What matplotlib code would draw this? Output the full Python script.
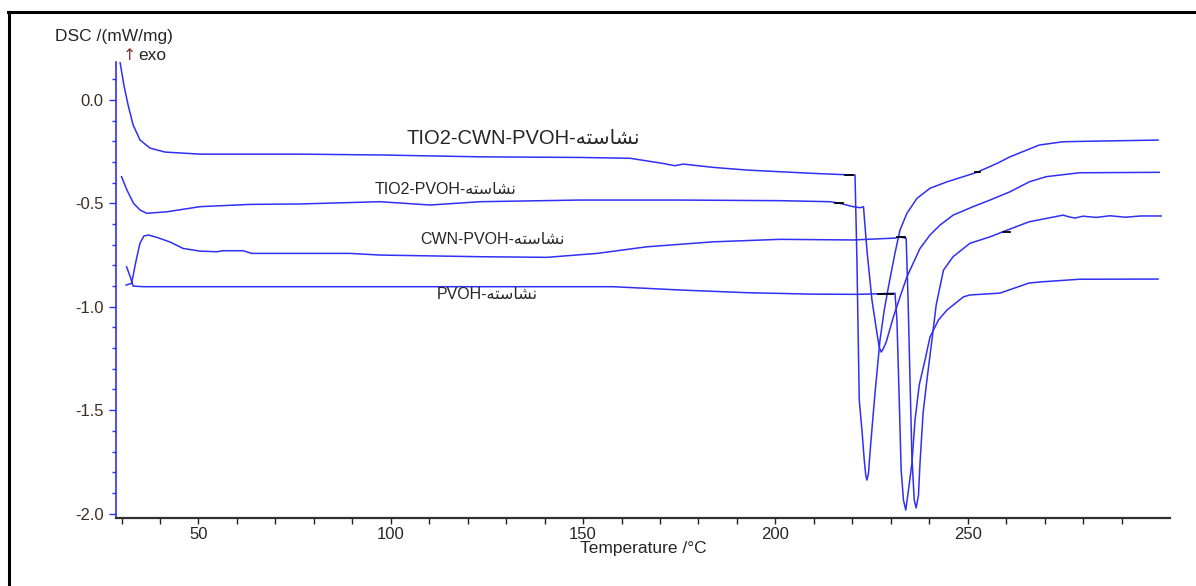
import numpy as np
import matplotlib
matplotlib.use("Agg")
from matplotlib import pyplot as plt
from matplotlib.ticker import MultipleLocator, FixedLocator, FormatStrFormatter
from matplotlib.lines import Line2D

plt.rcParams['axes.unicode_minus'] = False
plt.rcParams['font.family'] = ['Liberation Sans', 'DejaVu Sans']

# starch word, in joined (presentation) forms so it shows shaped
starch = "\ufeea\ufe98\ufeb3\ufe8e\ufeb8\ufee7"

# TIO2-CWN-PVOH
t1 = [29.6, 30.6, 31.7, 33.0, 34.8, 37.4, 41.3, 50.4, 76.4, 97.2, 123.2, 149.2, 162.2,
      170.8, 173.9, 176.0, 183.8, 192.6, 209.8, 220.2, 220.7, 221.2, 221.8, 222.5, 223.1,
      223.5, 223.8, 224.2, 224.8, 225.9, 227.2, 228.3, 229.4, 231.1, 232.4, 234.2, 236.8,
      240.2, 244.6, 252.4, 257.6, 261.0, 268.6, 274.8, 283.4, 299.5]
d1 = [0.183, 0.072, -0.025, -0.121, -0.194, -0.233, -0.252, -0.262, -0.262, -0.266, -0.275,
      -0.278, -0.282, -0.307, -0.318, -0.310, -0.326, -0.339, -0.355, -0.363, -0.363, -0.775,
      -1.451, -1.596, -1.741, -1.815, -1.838, -1.805, -1.659, -1.417, -1.161, -1.016, -0.903,
      -0.740, -0.629, -0.548, -0.476, -0.427, -0.396, -0.350, -0.307, -0.275, -0.218, -0.202,
      -0.199, -0.194]

# TIO2-PVOH
t2 = [30.0, 31.4, 33.1, 34.8, 36.5, 41.7, 50.4, 63.4, 76.4, 97.2, 110.2, 123.2, 149.2,
      175.2, 201.2, 214.2, 216.8, 220.2, 222.0, 222.9, 223.8, 225.1, 226.4, 227.0, 227.5,
      228.0, 228.8, 230.7, 232.4, 234.2, 237.6, 240.2, 242.8, 246.2, 251.4, 255.8, 261.0,
      266.0, 270.4, 279.1, 299.8]
d2 = [-0.371, -0.436, -0.500, -0.532, -0.548, -0.541, -0.516, -0.505, -0.503, -0.492, -0.508,
      -0.492, -0.484, -0.484, -0.487, -0.492, -0.500, -0.516, -0.521, -0.516, -0.726, -0.967,
      -1.127, -1.195, -1.219, -1.205, -1.171, -1.048, -0.953, -0.855, -0.718, -0.653, -0.605,
      -0.557, -0.516, -0.484, -0.444, -0.396, -0.371, -0.352, -0.350]

# CWN-PVOH
t3 = [31.2, 32.6, 33.8, 34.8, 35.8, 37.0, 39.1, 42.6, 46.0, 50.4, 54.7, 56.4, 61.6, 63.8,
      89.4, 97.2, 123.2, 140.6, 153.6, 166.6, 183.8, 201.2, 220.2, 231.1, 232.4, 234.0,
      234.5, 235.0, 235.5, 236.1, 236.6, 237.2, 237.6, 238.4, 239.4, 240.7, 241.8, 243.7,
      246.2, 250.6, 255.8, 259.2, 266.0, 270.4, 274.8, 276.5, 277.9, 280.0, 283.4, 287.0,
      291.0, 295.0, 300.3]
d3 = [-0.895, -0.887, -0.774, -0.692, -0.658, -0.653, -0.664, -0.687, -0.718, -0.731, -0.734,
      -0.729, -0.729, -0.742, -0.742, -0.750, -0.758, -0.761, -0.742, -0.710, -0.686, -0.674,
      -0.677, -0.668, -0.662, -0.669, -0.968, -1.354, -1.727, -1.935, -1.973, -1.911, -1.756,
      -1.514, -1.354, -1.161, -0.992, -0.823, -0.758, -0.693, -0.662, -0.637, -0.589, -0.573,
      -0.557, -0.566, -0.571, -0.562, -0.568, -0.560, -0.567, -0.561, -0.561]

# PVOH
t4 = [31.3, 32.2, 33.0, 35.7, 41.7, 97.2, 123.2, 157.8, 175.2, 192.6, 209.8, 221.2, 231.1,
      231.6, 232.2, 232.7, 233.3, 233.9, 234.6, 235.5, 236.3, 237.4, 238.9, 240.2, 242.4,
      244.6, 248.9, 250.6, 258.4, 266.0, 269.6, 279.0, 299.5]
d4 = [-0.807, -0.852, -0.900, -0.903, -0.903, -0.903, -0.903, -0.903, -0.919, -0.932, -0.939,
      -0.940, -0.935, -1.064, -1.451, -1.790, -1.935, -1.983, -1.886, -1.756, -1.548, -1.378,
      -1.258, -1.146, -1.064, -1.016, -0.952, -0.943, -0.934, -0.885, -0.879, -0.867, -0.866]

# short black evaluation marks drawn by the instrument software
mark_t0 = [218.1, 215.5, 231.6, 226.7, 252.0, 259.2]
mark_t1 = [220.2, 217.6, 233.7, 230.6, 253.2, 261.0]
mark_y = [-0.363, -0.500, -0.664, -0.936, -0.350, -0.640]

names = ["TIO2-CWN-PVOH-", "TIO2-PVOH-", "CWN-PVOH-", "PVOH-"]
label_x = [104.0, 95.9, 107.6, 111.9]
label_y = [-0.184, -0.431, -0.674, -0.943]
label_size = [14.5, 11.5, 11.5, 11.5]

xticks_major = [50, 100, 150, 200, 250]
xticks_minor = list(range(30, 300, 10))

blue = '#2f2ff5'
txt = '#262626'

fig = plt.figure(figsize=(11.96, 5.86), dpi=100)
W, H = 1196, 586
ax = fig.add_axes([116 / W, 1 - 517.7 / H, (1170 - 116) / W, (517.7 - 61.7) / H])

for t, d in [(t1, d1), (t2, d2), (t3, d3), (t4, d4)]:
    ax.plot(t, d, color=blue, lw=1.1)

for a, b, y in zip(mark_t0, mark_t1, mark_y):
    ax.plot([a, b], [y, y], color='black', lw=1.3)

for nm, x, y, s in zip(names, label_x, label_y, label_size):
    ax.text(x, y, nm + starch, fontsize=s, color=txt, ha='left', va='center',
            family=['Liberation Sans', 'DejaVu Sans'])

ax.set_xlim(28.55, 302.6)
ax.set_ylim(-2.02, 0.185)

ax.spines['top'].set_visible(False)
ax.spines['right'].set_visible(False)
ax.spines['left'].set_color(blue)
ax.spines['left'].set_linewidth(1.2)
ax.spines['bottom'].set_color('#303030')
ax.spines['bottom'].set_linewidth(1.6)

ax.xaxis.set_major_locator(FixedLocator(xticks_major))
ax.xaxis.set_minor_locator(FixedLocator(xticks_minor))
ax.yaxis.set_major_locator(MultipleLocator(0.5))
ax.yaxis.set_minor_locator(MultipleLocator(0.1))
ax.yaxis.set_major_formatter(FormatStrFormatter('%.1f'))

ax.tick_params(axis='x', which='both', direction='out', color='#202020', length=4,
               width=1.0, labelsize=12, labelcolor=txt, pad=3)
ax.tick_params(axis='y', which='major', direction='out', color=blue, length=5,
               width=1.0, labelsize=12, labelcolor='#3a3025', pad=4)
ax.tick_params(axis='y', which='minor', direction='out', color=blue, length=3, width=1.0)

ax.set_xlabel("Temperature /°C", fontsize=12.5, color=txt, labelpad=-1)

fig.text(55 / W, 1 - 37 / H, "DSC /(mW/mg)", fontsize=12.5, color=txt, ha='left', va='center')
fig.text(123 / W, 1 - 55 / H, "↑", fontsize=11.5, color='#7a3030', ha='left', va='center',
         family=['DejaVu Sans'])
fig.text(138 / W, 1 - 55 / H, "exo", fontsize=12.5, color=txt, ha='left', va='center')

# outer frame, only the top and left edges are in the picture
fig.add_artist(Line2D([8 / W, 1.0], [1 - 11.5 / H, 1 - 11.5 / H], color='black', lw=2.2,
                      transform=fig.transFigure))
fig.add_artist(Line2D([8.5 / W, 8.5 / W], [0.0, 1 - 11.5 / H], color='black', lw=2.2,
                      transform=fig.transFigure))

fig.savefig("out.png", dpi=100)
